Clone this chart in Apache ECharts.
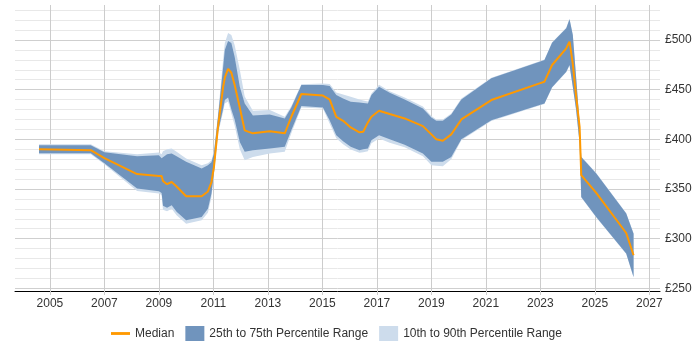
<!DOCTYPE html>
<html>
<head>
<meta charset="utf-8">
<script src="https://cdn.jsdelivr.net/npm/echarts@6/dist/echarts.min.js"></script>
<style>
  html, body { margin: 0; padding: 0; background: #fff; }
  #chart { width: 700px; height: 350px; }
</style>
</head>
<body>
<div id="chart"></div>
<script>
// decimal years of the sampled points
var years = [2004.6, 2006.5, 2007.0, 2008.2, 2009.0, 2009.1, 2009.15, 2009.3, 2009.47, 2009.65,
  2010.0, 2010.57, 2010.8, 2010.93, 2011.02, 2011.17, 2011.36, 2011.42, 2011.54, 2011.66,
  2011.78, 2011.97, 2012.15, 2012.45, 2013.07, 2013.62, 2013.86, 2014.23, 2015.02, 2015.27,
  2015.51, 2015.76, 2016.04, 2016.36, 2016.5, 2016.67, 2016.8, 2017.08, 2017.47, 2018.02,
  2018.69, 2019.0, 2019.18, 2019.42, 2019.73, 2020.1, 2021.2, 2022.97, 2023.15, 2023.43,
  2023.95, 2024.07, 2024.19, 2024.31, 2024.44, 2024.5, 2025.05, 2026.15, 2026.42];

var p10 = [385, 385, 375, 348, 345.5, 344, 329, 327.6, 330, 323.6,
  315, 318.5, 326, 342, 364, 405, 428, 436, 438, 426,
  414, 390, 379, 382.3, 385.8, 387.4, 406, 432, 431, 415.6,
  401, 395, 389.8, 386.4, 387, 388, 396, 400.9, 396.5, 392,
  383, 374, 373.5, 373, 380, 399, 418.5, 434, 435.5, 451.8,
  467.5, 474.3, 452.5, 429.5, 395.5, 341.5, 321.4, 284.5, 261];

var p25 = [386, 386, 376, 350.5, 347.8, 346, 333, 331, 333.7, 327,
  318.5, 321.9, 330, 345.5, 366, 407.6, 431, 439.5, 442, 430,
  420, 397.4, 387.4, 389, 390.8, 392.4, 409, 433.5, 432, 419,
  404, 398, 392.4, 389, 390, 390.8, 399, 404, 400, 394.5,
  385.8, 377.3, 377.3, 377.3, 382.3, 400, 419.3, 434.5, 436, 452.3,
  468, 474.8, 453, 430, 396, 342, 321.9, 285, 261.4];

var median = [390, 389, 381, 365, 363, 363, 358, 354.8, 357, 352.5,
  342.7, 342.7, 347.5, 357, 372, 412.6, 453, 462, 471, 467,
  455, 431.7, 409, 406, 408, 406, 422.7, 445.6, 444, 440,
  422.5, 418.6, 412, 407, 407.6, 417, 422.7, 428.7, 425.4, 421,
  413.3, 405, 400, 398.5, 405, 420, 439.5, 456.3, 458, 474.8,
  491.6, 498.3, 476, 444, 412.6, 364, 346, 305.7, 283.3];

var p75 = [394, 394, 387, 383, 384, 381, 383, 385, 385.8, 383,
  377.3, 370.7, 374, 377, 386, 422.7, 473, 490, 499, 497,
  483, 453, 436, 424, 425, 421, 432, 454.6, 454.6, 453.6,
  444.5, 441, 437.8, 437, 436.5, 436, 444.5, 453, 446.9, 440,
  431, 422, 418.6, 418.6, 425, 440, 461.4, 478, 479.8, 497.3,
  511.7, 520.8, 505, 463, 416, 382.3, 365.6, 325.3, 305];

var p90 = [395, 395, 388, 385, 386.8, 385, 388, 390, 390.8, 387.5,
  380.7, 374, 376, 379, 388, 425, 481, 497, 507, 505,
  495, 470, 443, 428.7, 429.4, 422.7, 433.5, 455.5, 456.3, 455.6,
  447, 445, 442.8, 440, 439, 438, 446, 455, 448.5, 442,
  433, 423.5, 420, 420, 426, 441, 462, 478.5, 480.3, 497.8,
  512.2, 521.3, 505.5, 463.5, 416.5, 382.8, 366.1, 325.8, 305.5];

var yearTicks = [2005, 2007, 2009, 2011, 2013, 2015, 2017, 2019, 2021, 2023, 2025, 2027];
var priceLabels = [250, 300, 350, 400, 450, 500];
var priceLines = [250, 260, 270, 280, 290, 300, 310, 320, 330, 340, 350, 360, 370, 380, 390,
  400, 410, 420, 430, 440, 450, 460, 470, 480, 490, 500, 510, 520, 530];

var darkBlue = '#7094bd';
var lightBlue = '#cddcec';
var orange = '#ff9900';

// value first, year second, so the stack is done on the value dimension
function pairs(vals) {
  return years.map(function (y, i) { return [vals[i], y]; });
}
function diff(hi, lo) {
  return years.map(function (y, i) { return [hi[i] - lo[i], y]; });
}

var enc = { x: 1, y: 0 };

var chart = echarts.init(document.getElementById('chart'));
var option = {
  animation: false,
  textStyle: { fontFamily: '"Liberation Sans", Arial, sans-serif' },
  grid: { left: 15, right: 40, top: 5, bottom: 59 },
  legend: {
    left: 106,
    top: 321,
    itemWidth: 19,
    itemHeight: 15,
    itemGap: 11,
    textStyle: { color: '#333', fontSize: 12 },
    data: [
      { name: 'Median', icon: 'path://M0,0L20,0L20,3L0,3Z' },
      { name: '25th to 75th Percentile Range', icon: 'rect' },
      { name: '10th to 90th Percentile Range', icon: 'rect' }
    ]
  },
  xAxis: {
    type: 'value',
    min: 2003.72,
    max: 2027.39,
    axisLine: { lineStyle: { color: '#000', width: 1 } },
    axisTick: { show: true, length: 4, customValues: yearTicks, lineStyle: { color: '#ccc' } },
    axisLabel: {
      customValues: yearTicks,
      color: '#333',
      fontSize: 12,
      margin: 7,
      formatter: function (v) { return String(v); }
    },
    splitLine: { show: true, lineStyle: { color: '#ccc', width: 1 } }
  },
  yAxis: {
    type: 'value',
    position: 'right',
    min: 247.3,
    max: 535.2,
    axisLine: { show: false },
    axisTick: { show: false, customValues: priceLines },
    axisLabel: {
      customValues: priceLabels,
      color: '#333',
      fontSize: 12,
      margin: 5,
      formatter: '£{value}'
    },
    splitLine: {
      show: true,
      lineStyle: { color: ['#cfcfcf', '#e8e8e8', '#e8e8e8', '#e8e8e8', '#e8e8e8'], width: 1 }
    }
  },
  series: [
    {
      name: 'p10',
      type: 'line',
      stack: 'outer',
      encode: enc,
      data: pairs(p10),
      symbol: 'none',
      silent: true,
      lineStyle: { opacity: 0 }
    },
    {
      name: '10th to 90th Percentile Range',
      type: 'line',
      stack: 'outer',
      encode: enc,
      data: diff(p90, p10),
      symbol: 'none',
      itemStyle: { color: lightBlue },
      lineStyle: { width: 0, opacity: 0 },
      areaStyle: { color: lightBlue, opacity: 1 }
    },
    {
      name: 'p25',
      type: 'line',
      stack: 'inner',
      encode: enc,
      data: pairs(p25),
      symbol: 'none',
      silent: true,
      lineStyle: { opacity: 0 }
    },
    {
      name: '25th to 75th Percentile Range',
      type: 'line',
      stack: 'inner',
      encode: enc,
      data: diff(p75, p25),
      symbol: 'none',
      itemStyle: { color: darkBlue },
      lineStyle: { width: 0, opacity: 0 },
      areaStyle: { color: darkBlue, opacity: 1 }
    },
    {
      name: 'Median',
      type: 'line',
      encode: enc,
      data: pairs(median),
      symbol: 'none',
      itemStyle: { color: orange },
      lineStyle: { color: orange, width: 2 }
    }
  ]
};
chart.setOption(option);
</script>
</body>
</html>
